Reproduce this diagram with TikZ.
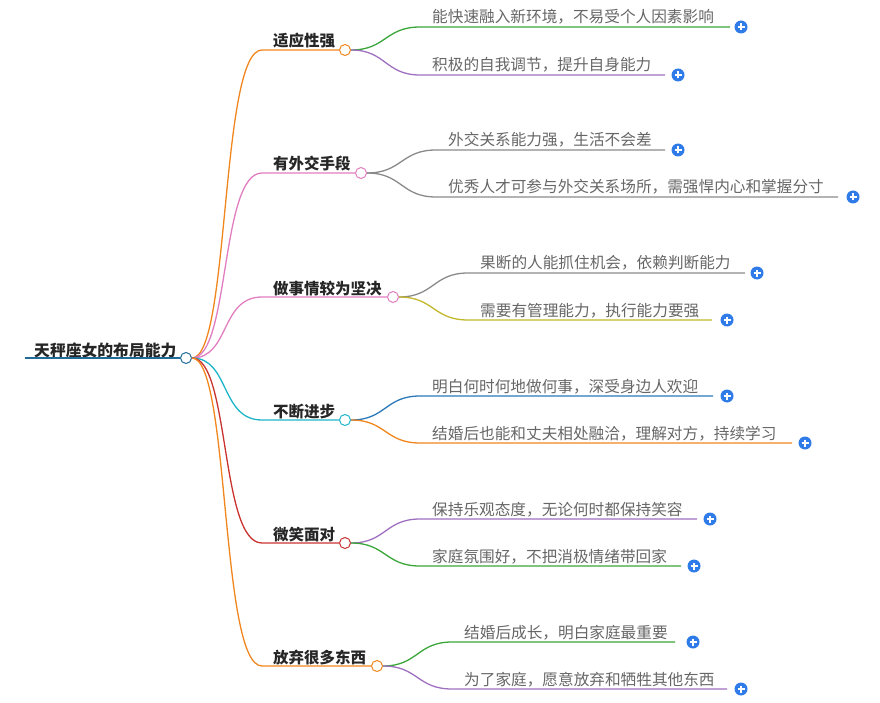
\documentclass[tikz,border=0pt]{standalone}
\usepackage{fontspec}
\newfontfamily\cjk{Noto Sans CJK SC}
\definecolor{cor}{HTML}{F0861D}
\definecolor{cpk}{HTML}{E07EC0}
\definecolor{ccy}{HTML}{1FB5C9}
\definecolor{cred}{HTML}{C8332F}
\definecolor{cgr}{HTML}{3AA63A}
\definecolor{cpu}{HTML}{A070C0}
\definecolor{cgy}{HTML}{8A8A8A}
\definecolor{col}{HTML}{C2B82A}
\definecolor{cbl}{HTML}{2A78B8}
\definecolor{croot}{HTML}{1F6B9A}
\definecolor{cplus}{HTML}{2F7BE8}
\tikzset{
 x=1pt,y=-1pt,
 br/.style={font=\cjk\fontsize{15.5}{17}\selectfont\bfseries, text=black!85, anchor=base west, inner sep=0},
 lf/.style={font=\cjk\fontsize{15.65}{17}\selectfont, text=black!60, anchor=base west, inner sep=0},
 knob/.style={circle, draw=#1, fill=white, line width=1pt, minimum size=11pt, inner sep=0},
 plusb/.style={circle, fill=cplus, minimum size=13pt, inner sep=0, path picture={\draw[white,line width=1.3pt] ([xshift=-3.5pt]path picture bounding box.center)--([xshift=3.5pt]path picture bounding box.center) ([yshift=-3.5pt]path picture bounding box.center)--([yshift=3.5pt]path picture bounding box.center);}},
 ln/.style={line width=1.3pt}
}
\begin{document}
\begin{tikzpicture}
\useasboundingbox (0,0) rectangle (880,703);
% root
\node[font=\cjk\fontsize{15.8}{17}\selectfont\bfseries, anchor=base west, inner sep=0, text=black!85] (root) at (34,356) {天秤座女的布局能力};
\coordinate (rs) at (25,358);
\node[knob=croot] (rc) at (186,358) {};
\draw[croot, line width=2.5pt] (rs) -- (rc.west);

\newcommand{\mybranch}[6]{% name, color, y, x-circle, text, textx
 \node[br] (#1t) at (#6,#3-3) {#5};
 \coordinate (#1s) at (262,#3);
 \node[knob=#2] (#1c) at (#4,#3) {};
 \draw[#2,ln] (rc.east) .. controls (230,358) and (220,#3) .. (#1s) -- (#1c.west);
}
\newcommand{\myleaf}[7]{% name, parent, color, y, xend, text, plusx
 \coordinate (#1s) at ([xshift=75]#2c.center |- 0,#4);
 \coordinate (#1e) at (#5,#4);
 \node[lf] (#1t) at ([xshift=12,yshift=4]#1s) {#6};
 \node[plusb] (#1p) at (#7,#4) {};
 \draw[#3,ln] (#2c.east) .. controls ([xshift=35]#2c.east) and ([xshift=-35]#1s) .. (#1s) -- (#1e);
}
\mybranch{a}{cor}{50}{345}{适应性强}{273}
\myleaf{a1}{a}{cgr}{27}{730}{能快速融入新环境，不易受个人因素影响}{741}
\myleaf{a2}{a}{cpu}{75}{665}{积极的自我调节，提升自身能力}{678}

\mybranch{b}{cpk}{173}{361}{有外交手段}{273}
\myleaf{b1}{b}{cgy}{150}{665}{外交关系能力强，生活不会差}{678}
\myleaf{b2}{b}{cgy}{197}{838}{优秀人才可参与外交关系场所，需强悍内心和掌握分寸}{853}

\mybranch{c}{cpk}{297}{393}{做事情较为坚决}{273}
\myleaf{c1}{c}{cgy}{273}{745}{果断的人能抓住机会，依赖判断能力}{757}
\myleaf{c2}{c}{col}{320}{712}{需要有管理能力，执行能力要强}{727}

\mybranch{d}{ccy}{420}{345}{不断进步}{273}
\myleaf{d1}{d}{cbl}{396}{713}{明白何时何地做何事，深受身边人欢迎}{727}
\myleaf{d2}{d}{cor}{443}{792}{结婚后也能和丈夫相处融洽，理解对方，持续学习}{805}

\mybranch{e}{cred}{543}{345}{微笑面对}{273}
\myleaf{e1}{e}{cpu}{519}{697}{保持乐观态度，无论何时都保持笑容}{710}
\myleaf{e2}{e}{cgr}{566}{681}{家庭氛围好，不把消极情绪带回家}{694}

\mybranch{f}{cor}{666}{377}{放弃很多东西}{273}
\myleaf{f1}{f}{cgr}{642}{675}{结婚后成长，明白家庭最重要}{693}
\myleaf{f2}{f}{cpu}{689}{727}{为了家庭，愿意放弃和牺牲其他东西}{741}
\end{tikzpicture}
\end{document}
